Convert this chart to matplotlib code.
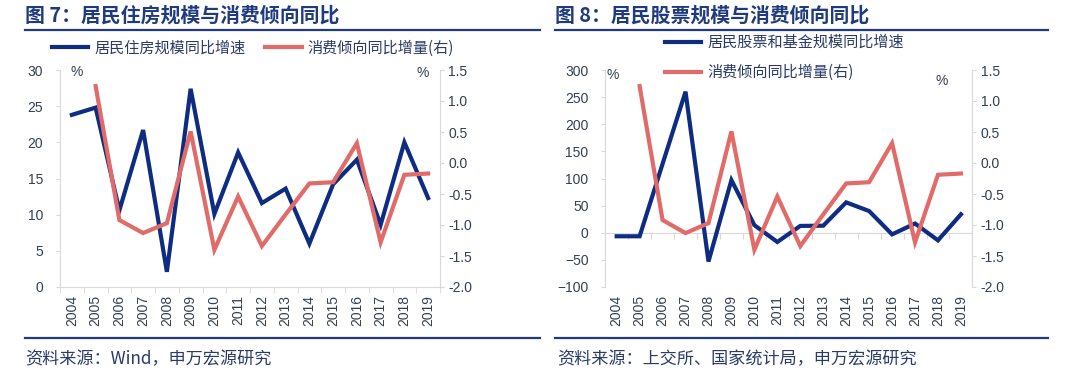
import numpy as np
import matplotlib
matplotlib.use('Agg')
import matplotlib.pyplot as plt
from matplotlib.lines import Line2D

# ---------------- data ----------------
years = ['2004', '2005', '2006', '2007', '2008', '2009', '2010', '2011',
         '2012', '2013', '2014', '2015', '2016', '2017', '2018', '2019']
housing_growth = [23.8, 24.8, 10.6, 21.7, 2.1, 27.4, 10.1, 18.6,
                  11.6, 13.6, 6.0, 14.2, 17.6, 8.6, 20.0, 12.3]
stock_fund_growth = [-6.5, -6.5, 127, 260, -53, 97, 14, -17,
                     12.6, 13, 56, 40, -3, 17, -14, 34]
propensity_change = [np.nan, 1.24, -0.92, -1.13, -0.97, 0.51, -1.40, -0.54,
                     -1.34, -0.83, -0.33, -0.31, 0.32, -1.28, -0.19, -0.17]

title_left = '图 7：居民住房规模与消费倾向同比'
title_right = '图 8：居民股票规模与消费倾向同比'
legend_left = ['居民住房规模同比增速', '消费倾向同比增量(右)']
legend_right = ['居民股票和基金规模同比增速', '消费倾向同比增量(右)']
source_left = '资料来源：Wind，申万宏源研究'
source_right = '资料来源：上交所、国家统计局，申万宏源研究'

left_ticks = [0, 5, 10, 15, 20, 25, 30]
stock_ticks = [-100, -50, 0, 50, 100, 150, 200, 250, 300]
right_ticks = [-2.0, -1.5, -1.0, -0.5, 0.0, 0.5, 1.0, 1.5]

# ---------------- style ----------------
BLUE = '#0D2C82'
RED = '#E06B69'
NAVY = '#1F3A7E'
GRAY = '#D9D9D9'
TXT = '#333F50'
LBL = '#2B3A67'
TICKFONT = ['Liberation Sans', 'DejaVu Sans']

plt.rcParams['font.family'] = ['Noto Sans CJK SC', 'DejaVu Sans']

W, H = 1080, 376
fig = plt.figure(figsize=(W / 100, H / 100), dpi=100)


def fx(px):
    return px / W


def fy(py):
    return 1 - py / H


x = np.arange(len(years))
bounds = np.arange(-0.5, len(years), 1.0)


def style_tick_labels(ax):
    for lab in ax.get_xticklabels() + ax.get_yticklabels():
        lab.set_fontfamily(TICKFONT)
        lab.set_fontsize(10)
        lab.set_color(TXT)


def make_panel(x0, x1, left_vals, left_ticks_, red_vals, zero_axis):
    ax = fig.add_axes([fx(x0), fy(287), fx(x1) - fx(x0), fy(70) - fy(287)])
    axr = ax.twinx()
    ax.plot(x, left_vals, color=BLUE, lw=3.0, solid_joinstyle='miter', zorder=3)
    axr.plot(x, red_vals, color=RED, lw=3.0, solid_joinstyle='miter', zorder=3)
    ax.set_xlim(-0.5, len(years) - 0.5)
    ax.set_ylim(left_ticks_[0], left_ticks_[-1])
    ax.set_yticks(left_ticks_)
    axr.set_ylim(right_ticks[0], right_ticks[-1])
    axr.set_yticks(right_ticks, [f'{v:.1f}' for v in right_ticks])
    ax.set_xticks(x, years, rotation=90)
    ax.tick_params(axis='x', which='major', length=0, pad=6)
    ax.tick_params(axis='y', length=3, color=GRAY, pad=9)
    axr.tick_params(axis='y', length=3, color=GRAY, pad=3)
    for s in ['top', 'right']:
        ax.spines[s].set_visible(False)
    for s in ['top', 'left', 'bottom']:
        axr.spines[s].set_visible(False)
    ax.spines['left'].set_color(GRAY)
    axr.spines['right'].set_color(GRAY)
    if zero_axis:
        ax.spines['bottom'].set_visible(False)
        loc = (0 - left_ticks_[0]) / (left_ticks_[-1] - left_ticks_[0])
        sec = ax.secondary_xaxis(loc)
        sec.set_xticks(bounds)
        sec.set_xticklabels([])
        sec.tick_params(axis='x', length=4, color=GRAY)
        sec.spines['bottom'].set_color(GRAY)
    else:
        ax.spines['bottom'].set_color(GRAY)
        ax.set_xticks(bounds, minor=True)
        ax.tick_params(axis='x', which='minor', length=4, color=GRAY)
    style_tick_labels(ax)
    style_tick_labels(axr)
    ax.patch.set_visible(False)
    return ax, axr


# ---------------- left panel ----------------
ax1, ax1r = make_panel(60, 440, housing_growth, left_ticks, propensity_change, False)
ax1.text(0.044, 0.99, '%', transform=ax1.transAxes, ha='center', va='center',
         fontsize=10, color=TXT, family=TICKFONT)
ax1.text(0.955, 0.986, '%', transform=ax1.transAxes, ha='center', va='center',
         fontsize=10, color=TXT, family=TICKFONT)

# ---------------- right panel ----------------
ax2, ax2r = make_panel(605.2, 972.4, stock_fund_growth, stock_ticks, propensity_change, True)
ax2.text(0.021, 0.977, '%', transform=ax2.transAxes, ha='center', va='center',
         fontsize=10, color=TXT, family=TICKFONT)
ax2.text(0.917, 0.949, '%', transform=ax2.transAxes, ha='center', va='center',
         fontsize=10, color=TXT, family=TICKFONT)

# ---------------- legends ----------------
handles = [Line2D([], [], color=BLUE, lw=3.0), Line2D([], [], color=RED, lw=3.0)]
leg1 = fig.legend(handles, legend_left, ncol=2, loc='center left',
                  bbox_to_anchor=(fx(52), fy(48)), frameon=False, fontsize=10.9,
                  handlelength=2.4, handletextpad=0.4, columnspacing=1.3,
                  borderpad=0, borderaxespad=0)
leg2 = fig.legend(handles, legend_right, ncol=1, loc='upper left',
                  bbox_to_anchor=(fx(665), fy(34)), frameon=False, fontsize=10.9,
                  handlelength=2.4, handletextpad=0.4, labelspacing=0.85,
                  borderpad=0, borderaxespad=0)
for leg in (leg1, leg2):
    for t in leg.get_texts():
        t.set_color(LBL)

# ---------------- titles, rules, sources ----------------
fig.text(fx(25), fy(15), title_left, fontsize=14.3, fontweight='bold',
         color=NAVY, ha='left', va='center')
fig.text(fx(555), fy(15), title_right, fontsize=14.3, fontweight='bold',
         color=NAVY, ha='left', va='center')
for (a, b) in [(25, 540), (555, 1048)]:
    fig.add_artist(Line2D([fx(a), fx(b)], [fy(30), fy(30)], transform=fig.transFigure,
                          color=NAVY, lw=1.6))
    fig.add_artist(Line2D([fx(a), fx(b)], [fy(338), fy(338)], transform=fig.transFigure,
                          color=NAVY, lw=1.6))
fig.text(fx(25), fy(359), source_left, fontsize=12.3, color=LBL, ha='left', va='center')
fig.text(fx(557), fy(359), source_right, fontsize=12.3, color=LBL, ha='left', va='center')

fig.savefig('out.png', dpi=100, facecolor='white')
